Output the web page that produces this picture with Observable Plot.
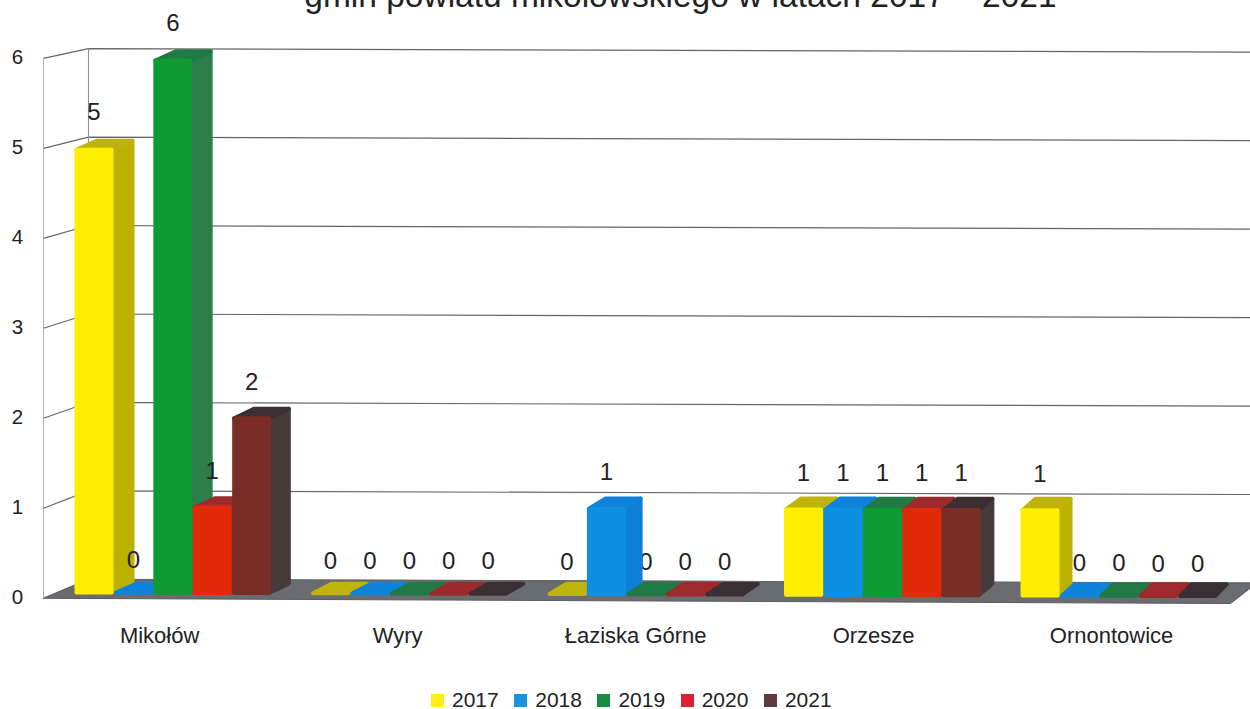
<!DOCTYPE html>
<html>
<head>
<meta charset="utf-8">
<script src="https://cdn.jsdelivr.net/npm/d3@7"></script>
<script src="https://cdn.jsdelivr.net/npm/@observablehq/plot@0.6"></script>
<style>
html,body{margin:0;padding:0;background:#fff;overflow:hidden}
#legend{position:relative;display:flex;align-items:center;height:24px;padding-left:431px;font:21px "Liberation Sans",sans-serif;color:#222}
#legend i{display:inline-block;width:13px;height:13px;margin-right:8px}
#legend span{margin-right:15.5px}
</style>
</head>
<body>
<div id="chart"></div>
<div id="legend"></div>
<script>
const title = "gmin powiatu mikołowskiego w latach 2017 – 2021";
const cities = ["Mikołów", "Wyry", "Łaziska Górne", "Orzesze", "Ornontowice"];
const years = ["2017", "2018", "2019", "2020", "2021"];
const values2017 = [5, 0, 0, 1, 1];
const values2018 = [0, 0, 1, 1, 0];
const values2019 = [6, 0, 0, 1, 0];
const values2020 = [1, 0, 0, 1, 0];
const values2021 = [2, 0, 0, 1, 0];
const yTicks = [0, 1, 2, 3, 4, 5, 6];
const series = [values2017, values2018, values2019, values2020, values2021];

const frontColors = ["#ffee00", "#0f8fe2", "#0f9a34", "#e02a08", "#7a2c26"];
const sideColors = ["#bdb100", "#0f7fd6", "#2e7d4c", "#a5231f", "#463a3b"];
const topColors = ["#bfb30c", "#0f82da", "#1f7a45", "#9d2a2c", "#3a3033"];
const legendColors = ["#fdee1c", "#1b91e2", "#1a8a42", "#dd2038", "#5e3c3e"];

// projection helpers in scale units (x: one unit per city, y: chart value)
const barStep = 1 / 6, barWidth = 0.165;
const barScale = 0.993;
const labelScale = 0.995;
const ix = 2 / 236.5, iy = 2 / 90;
const tilt = (x) => (2 - 0.75 * x) / 90;
const depthX = (x) => (21 - 2 * x) / 236.5;
const depthY = (x) => (9 + 0.6 * x) / 90;
const front = (v) => v - 0.02;
const back = (v) => 0.19 + 0.983 * v;
const wallLeft = -0.131, wallBack = 0.059, wallRight = 5;

const faces = [];
function addFace(id, color, pts) {
  [...pts, pts[0]].forEach(([x, y]) => faces.push({id, color, x, y}));
}
cities.forEach((c, g) => {
  series.forEach((vals, s) => {
    const v = vals[g] * barScale;
    const x0 = g + s * barStep + ix, x1 = x0 + barWidth - 2 * ix;
    const dx = depthX(x0), dy = depthY(x0), t = tilt(x0) + iy, h = t + v - 2 * iy;
    if (v > 0) addFace(`${g}-${s}-side`, sideColors[s], [
      [x1, t], [x1 + dx, t + dy], [x1 + dx, h + dy], [x1, h]
    ]);
    addFace(`${g}-${s}-top`, topColors[s], v > 0 ? [
      [x0, h], [x1, h], [x1 + dx, h + dy], [x0 + dx, h + dy]
    ] : [
      [x0, t], [x1, t], [x1 + dx, t + dy], [x0 + dx, t + dy]
    ]);
    if (v > 0) addFace(`${g}-${s}-front`, frontColors[s], [
      [x0, t], [x1, t], [x1, h], [x0, h]
    ]);
  });
});

const floor = [
  {x: wallLeft, y: front(0)}, {x: wallBack, y: back(0)},
  {x: wallRight, y: back(0) - 0.04}, {x: 4.888, y: -0.078}
];
const grid = yTicks.flatMap((v) => [
  {v, x: wallLeft, y: front(v)},
  {v, x: wallBack, y: back(v)},
  {v, x: wallRight, y: back(v) - 0.04}
]);

const labels = [];
cities.forEach((c, g) => series.forEach((vals, s) => {
  const x0 = g + s * barStep;
  labels.push({g, s, x: x0 + barWidth / 2, y: tilt(x0) + vals[g] * labelScale, label: String(vals[g])});
}));
const isBehind = (d) => d.g === 2 && d.s === 2;
const labelFont = {fontSize: 24, fontFamily: "Liberation Sans, sans-serif", fill: "#222", text: "label", x: "x", y: "y", dy: -34};

const plot = Plot.plot({
  width: 1250,
  height: 688,
  margin: 0,
  x: {domain: [0, 5], range: [74, 1256.5], axis: null},
  y: {domain: [0, 6], range: [596, 56], axis: null},
  color: {type: "identity"},
  marks: [
    Plot.line(floor.concat(floor[0]), {x: "x", y: "y", fill: "#6a6c70", stroke: "#5a5c60", strokeWidth: 1}),
    Plot.line(grid, {x: "x", y: "y", z: "v", stroke: "#666666", strokeWidth: 1.2}),
    Plot.ruleX([wallLeft], {y1: front(0), y2: front(6), stroke: "#b0b0b0", strokeWidth: 1}),
    Plot.ruleX([wallBack], {y1: back(0), y2: back(6), stroke: "#8a8a8a", strokeWidth: 1}),
    Plot.text(labels.filter(isBehind), labelFont),
    Plot.line(faces, {x: "x", y: "y", z: "id", fill: "color", stroke: "color", strokeWidth: 4, strokeLinejoin: "round"}),
    Plot.text(labels.filter((d) => !isBehind(d)), labelFont),
    Plot.text(yTicks, {x: () => -0.241, y: (d) => d, dy: 1, text: (d) => String(d), fontSize: 20.5, fontFamily: "Liberation Sans, sans-serif", fill: "#222"}),
    Plot.text(cities, {x: (d, i) => 0.36 + i * 1.0063, y: () => 0, dy: 39, text: (d) => d, fontSize: 22, fontFamily: "Liberation Sans, sans-serif", fill: "#222"}),
    Plot.text([title], {x: () => 2.562, y: () => 6.665, text: (d) => d, fontSize: 33.5, fontFamily: "Liberation Sans, sans-serif", fill: "#222"})
  ]
});
document.getElementById("chart").append(plot);

const legend = document.getElementById("legend");
years.forEach((y, i) => {
  const sw = document.createElement("i");
  sw.style.background = legendColors[i];
  const t = document.createElement("span");
  t.textContent = y;
  legend.append(sw, t);
});
</script>
</body>
</html>
